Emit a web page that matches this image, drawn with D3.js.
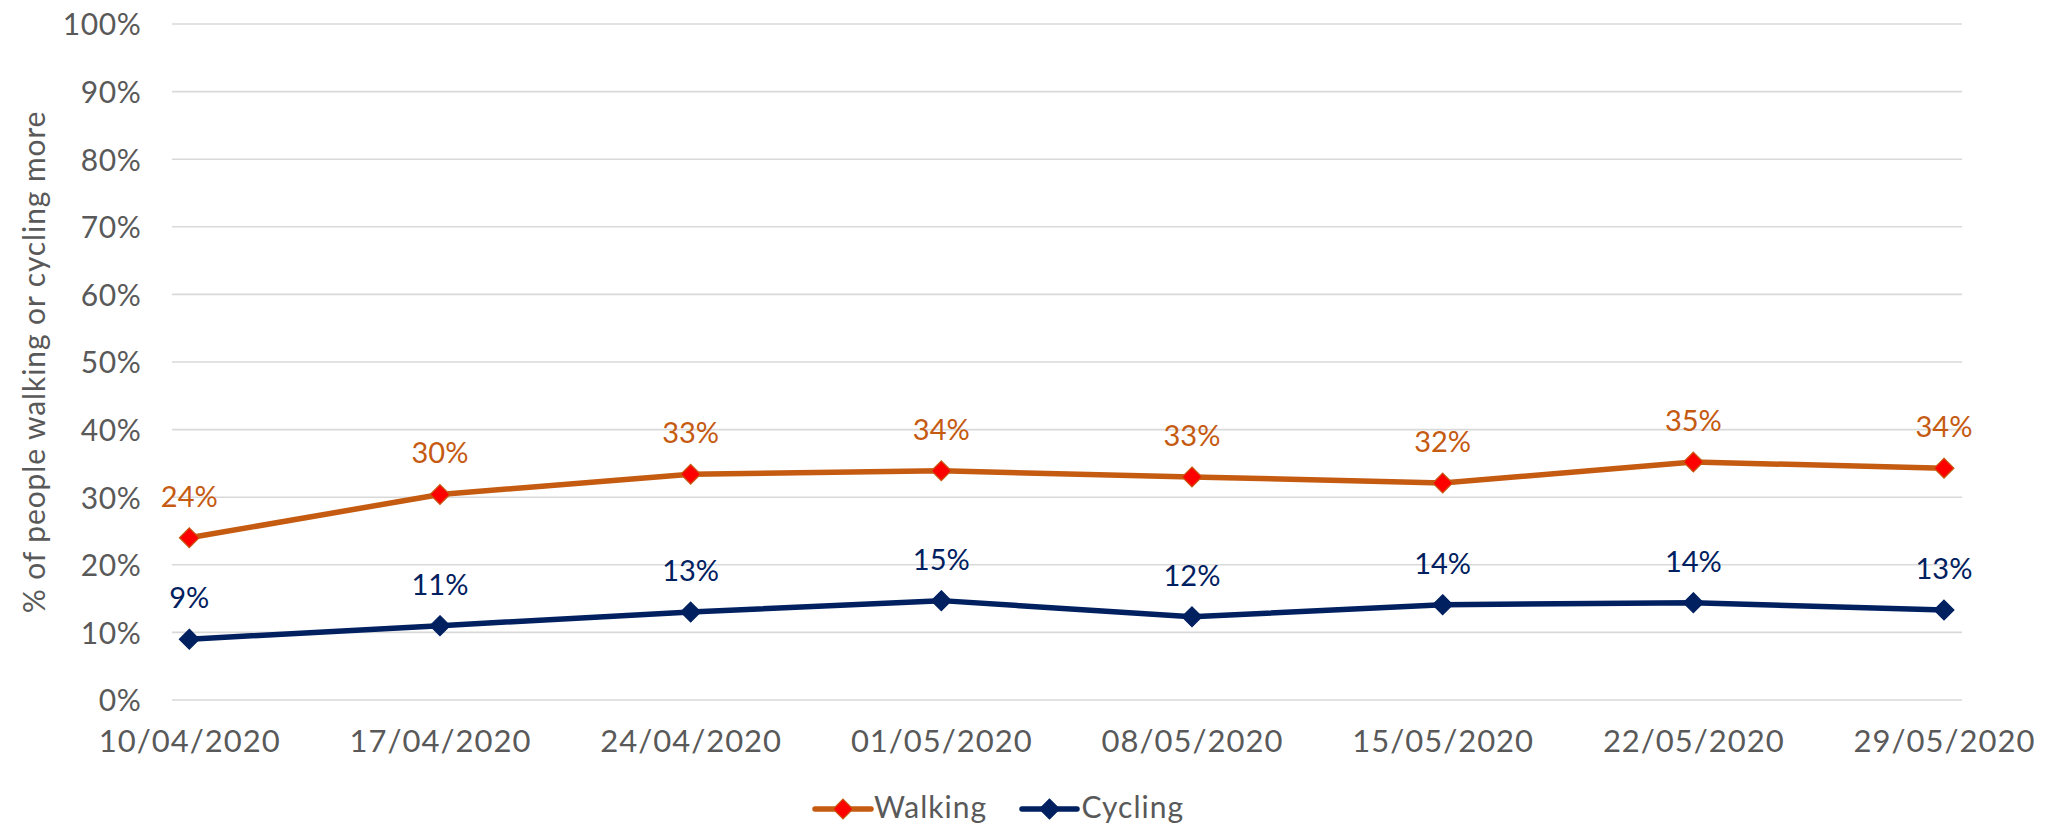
<!DOCTYPE html>
<html>
<head>
<meta charset="utf-8">
<script src="https://cdn.jsdelivr.net/npm/d3@7"></script>
<style>
  html, body { margin: 0; padding: 0; background: #ffffff; }
  svg { display: block; }
</style>
</head>
<body>
<svg id="chart" width="2059" height="825"></svg>
<script>
const categories = ["10/04/2020", "17/04/2020", "24/04/2020", "01/05/2020", "08/05/2020", "15/05/2020", "22/05/2020", "29/05/2020"];
const walking = [0.240, 0.304, 0.334, 0.339, 0.330, 0.321, 0.352, 0.343];
const cycling = [0.090, 0.110, 0.130, 0.147, 0.123, 0.141, 0.144, 0.133];
const yTicks = [0, 0.1, 0.2, 0.3, 0.4, 0.5, 0.6, 0.7, 0.8, 0.9, 1.0];
const seriesNames = ["Walking", "Cycling"];
const yTitle = "% of people walking or cycling more";

const axisFont = "Lato, 'Open Sans', sans-serif";
const labelFont = "Lato, 'Open Sans', sans-serif";
const textGrey = "#595959";
const gridColor = "#D9D9D9";

const series = [
  { name: seriesNames[0], values: walking, line: "#C55A11", fill: "#FF0000", stroke: "#C55A11", label: "#C55A11" },
  { name: seriesNames[1], values: cycling, line: "#002060", fill: "#002060", stroke: "#002060", label: "#002060" }
];

const svg = d3.select("#chart");

const gridLeft = 172, gridRight = 1962;
const x = d3.scalePoint().domain(categories).range([189.3, 1944]);
const y = d3.scaleLinear().domain([0, 1]).range([700, 24]);

// gridlines
svg.append("g").selectAll("line").data(yTicks).join("line")
  .attr("x1", gridLeft).attr("x2", gridRight)
  .attr("y1", d => y(d)).attr("y2", d => y(d))
  .attr("stroke", gridColor).attr("stroke-width", 1.6);

// y axis labels
const yAxis = d3.axisLeft(y).tickValues(yTicks).tickFormat(d3.format(".0%")).tickSize(0).tickPadding(0);
const yg = svg.append("g").attr("transform", "translate(141.5,0)").call(yAxis);
yg.select(".domain").remove();
yg.selectAll("text")
  .attr("font-family", axisFont).attr("font-size", 30).attr("fill", textGrey)
  .attr("dy", "0.36em").attr("letter-spacing", 0.6);

// x axis labels
const xAxis = d3.axisBottom(x).tickSize(0).tickPadding(0);
const xg = svg.append("g").attr("transform", "translate(0,751.5)").call(xAxis);
xg.select(".domain").remove();
xg.selectAll("text")
  .attr("font-family", axisFont).attr("font-size", 31).attr("fill", textGrey)
  .attr("dy", 0).attr("letter-spacing", 1);

// y title
svg.append("text")
  .attr("transform", "translate(45,362) rotate(-90)")
  .attr("text-anchor", "middle")
  .attr("font-family", axisFont).attr("font-size", 30).attr("fill", textGrey)
  .attr("letter-spacing", 0.9)
  .text(yTitle);

const diamond = d3.symbol().type(d3.symbolDiamond2).size(250);
const line = d3.line().x((d, i) => x(categories[i])).y(d => y(d));

series.forEach(s => {
  const g = svg.append("g");
  g.append("path").datum(s.values)
    .attr("d", line).attr("fill", "none")
    .attr("stroke", s.line).attr("stroke-width", 5.5).attr("stroke-linejoin", "round");
  g.selectAll("path.m").data(s.values).join("path").attr("class", "m")
    .attr("transform", (d, i) => `translate(${x(categories[i])},${y(d)})`)
    .attr("d", diamond)
    .attr("fill", s.fill).attr("stroke", s.stroke).attr("stroke-width", 1.2);
  g.selectAll("text").data(s.values).join("text")
    .attr("x", (d, i) => x(categories[i]))
    .attr("y", d => y(d) - 31)
    .attr("text-anchor", "middle")
    .attr("font-family", labelFont).attr("font-size", 29)
    .attr("fill", s.label)
    .text(d => d3.format(".0%")(d));
});

// legend
const legendItems = [
  { s: series[0], x0: 815, x1: 871, tx: 874 },
  { s: series[1], x0: 1022, x1: 1077, tx: 1081.5 }
];
const lg = svg.append("g");
legendItems.forEach(it => {
  const ly = 809;
  lg.append("line").attr("x1", it.x0).attr("x2", it.x1).attr("y1", ly).attr("y2", ly)
    .attr("stroke", it.s.line).attr("stroke-width", 5.5).attr("stroke-linecap", "round");
  lg.append("path").attr("transform", `translate(${(it.x0 + it.x1) / 2},${ly})`)
    .attr("d", diamond).attr("fill", it.s.fill).attr("stroke", it.s.stroke).attr("stroke-width", 1.2);
  lg.append("text").attr("x", it.tx).attr("y", 817.5)
    .attr("font-family", axisFont).attr("font-size", 30).attr("fill", textGrey)
    .attr("letter-spacing", 1)
    .text(it.s.name);
});
</script>
</body>
</html>
